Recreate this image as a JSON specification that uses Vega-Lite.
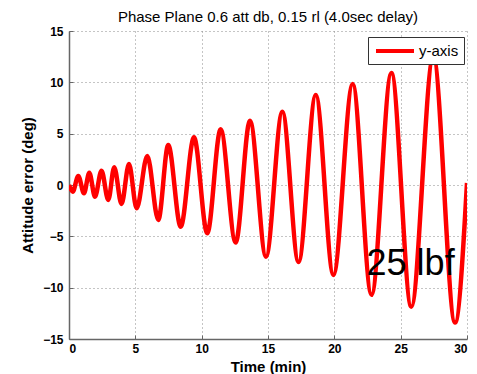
{
  "$schema": "https://vega.github.io/schema/vega-lite/v6.json",
  "width": 398,
  "height": 308,
  "autosize": {"type": "none"},
  "padding": {"left": 69, "top": 31, "right": 10, "bottom": 35},
  "background": "white",
  "title": {"text": "Phase Plane 0.6 att db, 0.15 rl (4.0sec delay)", "font": "Liberation Sans", "fontSize": 15, "fontWeight": "normal", "color": "black", "offset": 0, "anchor": "middle"},
  "config": {
    "view": {"stroke": null},
    "axis": {
      "domainColor": "#666666", "domainWidth": 1.5,
      "gridColor": "#8a8a8a", "gridDash": [1, 3], "gridWidth": 1,
      "tickColor": "#666666", "tickSize": -4,
      "labelFont": "Liberation Sans", "labelFontSize": 12, "labelFontWeight": "bold", "labelColor": "black",
      "titleFont": "Liberation Sans", "titleFontSize": 15, "titleFontWeight": "bold", "titleColor": "black"
    }
  },
  "layer": [
    {
      "data": {"values": [
        {"t": 0, "v": 0, "s": "y-axis"},
        {"t": 0.28, "v": -0.65, "s": "y-axis"},
        {"t": 0.7, "v": 0.88, "s": "y-axis"},
        {"t": 1.13, "v": -0.8, "s": "y-axis"},
        {"t": 1.53, "v": 1.2, "s": "y-axis"},
        {"t": 1.96, "v": -1.14, "s": "y-axis"},
        {"t": 2.45, "v": 1.4, "s": "y-axis"},
        {"t": 2.96, "v": -1.46, "s": "y-axis"},
        {"t": 3.41, "v": 1.72, "s": "y-axis"},
        {"t": 3.96, "v": -1.85, "s": "y-axis"},
        {"t": 4.52, "v": 2.04, "s": "y-axis"},
        {"t": 5.1, "v": -2.27, "s": "y-axis"},
        {"t": 5.9, "v": 2.82, "s": "y-axis"},
        {"t": 6.73, "v": -3.4, "s": "y-axis"},
        {"t": 7.48, "v": 3.9, "s": "y-axis"},
        {"t": 8.42, "v": -4.06, "s": "y-axis"},
        {"t": 9.42, "v": 4.64, "s": "y-axis"},
        {"t": 10.42, "v": -4.7, "s": "y-axis"},
        {"t": 11.43, "v": 5.42, "s": "y-axis"},
        {"t": 12.56, "v": -5.6, "s": "y-axis"},
        {"t": 13.64, "v": 6.26, "s": "y-axis"},
        {"t": 14.85, "v": -6.98, "s": "y-axis"},
        {"t": 16.08, "v": 7.14, "s": "y-axis"},
        {"t": 17.3, "v": -7.5, "s": "y-axis"},
        {"t": 18.6, "v": 8.76, "s": "y-axis"},
        {"t": 19.93, "v": -8.76, "s": "y-axis"},
        {"t": 21.38, "v": 9.83, "s": "y-axis"},
        {"t": 22.8, "v": -10.7, "s": "y-axis"},
        {"t": 24.3, "v": 10.9, "s": "y-axis"},
        {"t": 25.8, "v": -11.85, "s": "y-axis"},
        {"t": 27.46, "v": 12.5, "s": "y-axis"},
        {"t": 29.1, "v": -13.4, "s": "y-axis"},
        {"t": 30, "v": 0.2, "s": "y-axis"}
      ]},
      "mark": {"type": "line", "interpolate": "monotone", "strokeWidth": 4.5, "clip": true},
      "encoding": {
        "x": {"field": "t", "type": "quantitative", "scale": {"domain": [0, 30], "nice": false}, "axis": {"values": [0, 5, 10, 15, 20, 25, 30], "title": "Time (min)", "labelPadding": 8, "titlePadding": 5, "grid": true}},
        "y": {"field": "v", "type": "quantitative", "scale": {"domain": [-15, 15], "nice": false}, "axis": {"values": [-15, -10, -5, 0, 5, 10, 15], "title": "Attitude error (deg)", "labelPadding": 10, "titlePadding": 7, "grid": true}},
        "color": {"field": "s", "type": "nominal", "scale": {"range": ["#ff0000"]}, "legend": {"title": null, "orient": "none", "legendX": 299, "legendY": 6, "zindex": 2, "strokeColor": "#333333", "fillColor": "white", "padding": 5, "symbolType": "M-0.857,0H4.571", "symbolStrokeWidth": 4, "symbolSize": 196, "labelFont": "Liberation Sans", "labelFontSize": 15, "labelColor": "black", "labelOffset": 28}}
      }
    },
    {
      "data": {"values": [{"t": 22.43, "v": -8.76, "label": "25 lbf"}]},
      "mark": {"type": "text", "font": "Liberation Sans", "fontSize": 36, "align": "left", "baseline": "alphabetic", "color": "black"},
      "encoding": {
        "x": {"field": "t", "type": "quantitative"},
        "y": {"field": "v", "type": "quantitative"},
        "text": {"field": "label"}
      }
    }
  ]
}
